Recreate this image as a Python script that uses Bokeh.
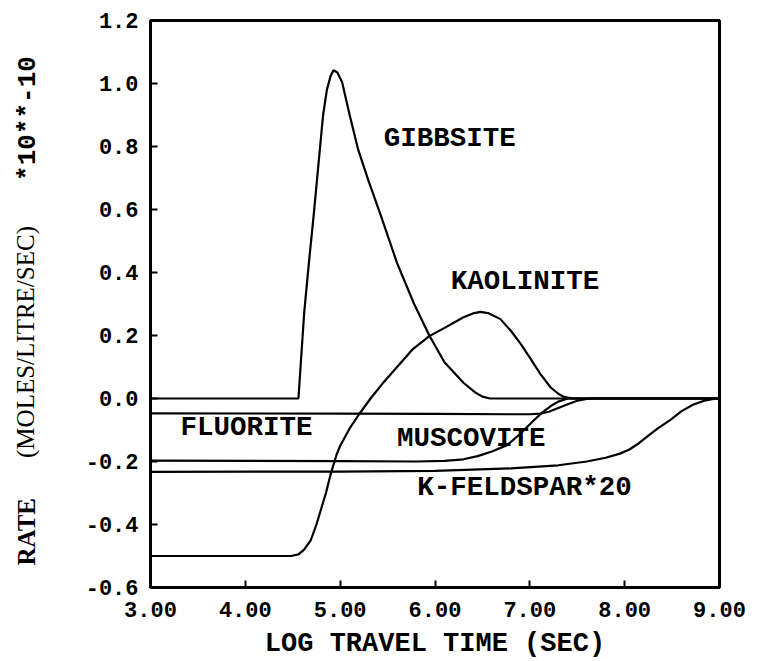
from math import pi

from bokeh.core.properties import value
from bokeh.embed import file_html
from bokeh.layouts import row
from bokeh.models import FixedTicker, Label, NumeralTickFormatter, Range1d
from bokeh.plotting import figure
from bokeh.resources import INLINE

# Reaction rates (moles/litre/sec, *10**-10) against log travel time (sec)
gibbsite_x = [3.00, 4.56, 4.62, 4.67, 4.72, 4.77, 4.82, 4.86, 4.90, 4.93, 4.97, 5.02,
              5.10, 5.19, 5.30, 5.43, 5.60, 5.78, 5.94, 6.10, 6.30, 6.42, 6.50, 6.58, 7.50, 9.00]
gibbsite_y = [0.000, 0.000, 0.270, 0.430, 0.580, 0.740, 0.900, 0.980, 1.025, 1.042, 1.035, 1.005,
              0.900, 0.790, 0.690, 0.580, 0.430, 0.300, 0.200, 0.115, 0.050, 0.020, 0.006, 0.000, 0.000, 0.000]

kaolinite_x = [3.00, 4.48, 4.56, 4.62, 4.69, 4.75, 4.80, 4.85, 4.90, 4.96, 5.00, 5.10, 5.20,
               5.32, 5.44, 5.60, 5.76, 5.94, 6.13, 6.30, 6.40, 6.48, 6.57, 6.69, 6.80, 6.90,
               7.00, 7.11, 7.22, 7.30, 7.36, 7.45, 9.00]
kaolinite_y = [-0.500, -0.500, -0.495, -0.480, -0.450, -0.400, -0.350, -0.300, -0.240, -0.180,
               -0.150, -0.095, -0.050, 0.000, 0.045, 0.100, 0.155, 0.198, 0.229, 0.258, 0.270,
               0.275, 0.270, 0.252, 0.215, 0.175, 0.130, 0.078, 0.035, 0.015, 0.005, 0.000, 0.000]

fluorite_x = [3.00, 5.00, 6.00, 6.80, 7.00, 7.11, 7.20, 7.30, 7.40, 7.50, 7.60, 7.70, 9.00]
fluorite_y = [-0.047, -0.048, -0.049, -0.050, -0.050, -0.048, -0.042, -0.030, -0.018, -0.007,
              -0.001, 0.000, 0.000]

muscovite_x = [3.00, 5.00, 5.80, 6.10, 6.30, 6.45, 6.60, 6.76, 6.90, 7.04, 7.13, 7.22, 7.30,
               7.40, 7.50, 9.00]
muscovite_y = [-0.197, -0.199, -0.200, -0.198, -0.193, -0.183, -0.168, -0.148, -0.112, -0.070,
               -0.045, -0.024, -0.010, 0.000, 0.000, 0.000]

kfeldspar_x = [3.00, 5.00, 6.00, 6.80, 7.30, 7.60, 7.80, 7.95, 8.05, 8.15, 8.25, 8.35, 8.49,
               8.60, 8.72, 8.83, 8.92, 9.00]
kfeldspar_y = [-0.233, -0.232, -0.230, -0.222, -0.212, -0.200, -0.188, -0.175, -0.162, -0.142,
               -0.118, -0.095, -0.066, -0.040, -0.020, -0.008, -0.002, 0.000]

x_ticks = [3, 4, 5, 6, 7, 8, 9]
y_ticks = [-0.6, -0.4, -0.2, 0.0, 0.2, 0.4, 0.6, 0.8, 1.0, 1.2]

# y-axis title pieces, bottom to top
ytitle_parts = ["RATE", "(MOLES/LITRE/SEC)", "*10**-10"]

MONO = "Liberation Mono"
SERIF = "Liberation Serif"
STRIP_W = 46
W, H = 759, 661
TOP, BOTTOM = 20, 72  # borders around the plotting frame

# narrow strip on the left that carries the rotated y-axis title; its frame
# lines up with the main frame, and its y range is in page pixels from the top
strip = figure(
    width=STRIP_W, height=H,
    x_range=Range1d(0, STRIP_W), y_range=Range1d(H - BOTTOM, TOP),
    output_backend="svg", toolbar_location=None,
    min_border_left=0, min_border_right=0,
    min_border_top=TOP, min_border_bottom=BOTTOM,
    outline_line_color=None,
    background_fill_color="white", border_fill_color="white",
)
strip.axis.visible = False
strip.grid.visible = False
# (x centre, lower end of the text, font, size, style)
title_specs = [
    (26, 567, SERIF, "25px", "bold"),
    (25, 459, SERIF, "25px", "normal"),
    (27, 181, MONO, "26px", "bold"),
]
for txt, (tx, ty, font, size, style) in zip(ytitle_parts, title_specs):
    strip.text(x=[tx], y=[ty], text=[txt], text_font=value(font), text_font_size=size,
               text_font_style=style, angle=pi / 2, text_align="left",
               text_baseline="middle", text_color="black")

p = figure(
    width=W - STRIP_W, height=H,
    x_range=Range1d(3, 9), y_range=Range1d(-0.6, 1.2),
    output_backend="svg", toolbar_location=None,
    min_border_left=150 - STRIP_W, min_border_right=40,
    min_border_top=TOP, min_border_bottom=BOTTOM,
    background_fill_color="white", border_fill_color="white",
)
p.grid.visible = False
p.outline_line_color = "black"
p.outline_line_width = 3

for ax in (p.xaxis[0], p.yaxis[0]):
    ax.axis_line_color = None
    ax.major_tick_in = 7
    ax.major_tick_out = 0
    ax.major_tick_line_width = 2
    ax.major_tick_line_color = "black"
    ax.minor_tick_line_color = None
    ax.major_label_text_font = MONO
    ax.major_label_text_font_size = "22px"
    ax.major_label_text_font_style = "bold"
    ax.major_label_text_color = "black"

p.xaxis[0].ticker = FixedTicker(ticks=x_ticks)
p.xaxis[0].formatter = NumeralTickFormatter(format="0.00")
p.xaxis[0].major_label_standoff = 14
p.xaxis[0].axis_label = "LOG TRAVEL TIME (SEC)"
p.xaxis[0].axis_label_text_font = MONO
p.xaxis[0].axis_label_text_font_size = "27px"
p.xaxis[0].axis_label_text_font_style = "bold"
p.xaxis[0].axis_label_text_color = "black"
p.xaxis[0].axis_label_standoff = 9
p.yaxis[0].ticker = FixedTicker(ticks=y_ticks)
p.yaxis[0].formatter = NumeralTickFormatter(format="0.0")
p.yaxis[0].major_label_standoff = 12

series = [
    (gibbsite_x, gibbsite_y),
    (kaolinite_x, kaolinite_y),
    (fluorite_x, fluorite_y),
    (muscovite_x, muscovite_y),
    (kfeldspar_x, kfeldspar_y),
]
for xs, ys in series:
    p.line(xs, ys, line_color="black", line_width=2.2)

# curve names
names = [
    ("GIBBSITE", 5.46, 0.824),
    ("KAOLINITE", 6.165, 0.372),
    ("FLUORITE", 3.316, -0.092),
    ("MUSCOVITE", 5.60, -0.128),
    ("K-FELDSPAR*20", 5.813, -0.281),
]
for txt, lx, ly in names:
    p.add_layout(Label(x=lx, y=ly, text=txt, text_font=MONO, text_font_size="27.5px",
                       text_font_style="bold", text_baseline="middle", text_align="left",
                       text_color="black"))

layout = row(strip, p, spacing=0)
open("out.html", "w").write(file_html(layout, INLINE))
